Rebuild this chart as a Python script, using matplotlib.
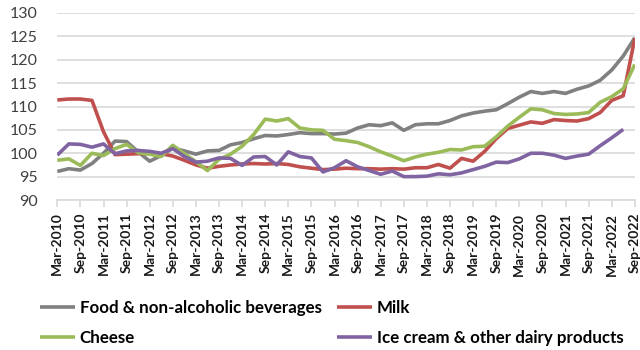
import numpy as np
import matplotlib
matplotlib.use("Agg")
import matplotlib.pyplot as plt

quarters = []
months = ["Mar", "Jun", "Sep", "Dec"]
for y in range(2010, 2023):
    for m in months:
        quarters.append(f"{m}-{y}")
quarters = quarters[:quarters.index("Sep-2022") + 1]

food = [96.1, 96.7, 96.4, 97.8, 100.0, 102.6, 102.5, 100.3, 98.3, 99.5, 101.1, 100.5,
        99.8, 100.5, 100.6, 101.8, 102.3, 103.1, 103.8, 103.7, 104.0, 104.4, 104.2, 104.2,
        104.1, 104.3, 105.4, 106.1, 105.9, 106.5, 104.9, 106.1, 106.3, 106.3, 107.0, 108.0,
        108.6, 109.0, 109.3, 110.6, 112.0, 113.2, 112.8, 113.2, 112.8, 113.7, 114.4, 115.6,
        117.8, 120.8, 124.7]
milk = [111.4, 111.6, 111.6, 111.3, 104.6, 99.7, 99.8, 99.9, 100.0, 99.9, 99.4, 98.5,
        97.5, 96.8, 97.2, 97.5, 97.7, 97.8, 97.7, 97.8, 97.6, 97.1, 96.8, 96.5,
        96.6, 96.8, 96.7, 96.7, 96.6, 96.7, 96.6, 96.9, 96.9, 97.6, 96.8, 98.9,
        98.3, 100.4, 103.1, 105.3, 106.0, 106.7, 106.4, 107.2, 107.0, 106.9, 107.4, 108.7,
        111.3, 112.3, 124.6]
cheese = [98.5, 98.8, 97.4, 100.0, 99.5, 101.0, 101.9, 100.1, 99.8, 99.3, 101.7, 99.9,
          98.2, 96.3, 98.7, 99.8, 101.5, 104.0, 107.3, 106.9, 107.4, 105.4, 105.0, 104.9,
          103.0, 102.7, 102.3, 101.4, 100.3, 99.4, 98.4, 99.2, 99.8, 100.2, 100.8, 100.7,
          101.4, 101.5, 103.5, 105.8, 107.7, 109.5, 109.3, 108.5, 108.3, 108.4, 108.7, 110.9,
          112.1, 113.8, 119.0]
icecream = [99.6, 102.0, 101.9, 101.3, 102.0, 99.9, 100.5, 100.6, 100.4, 100.0, 101.0, 99.3,
            98.1, 98.3, 99.0, 98.9, 97.4, 99.2, 99.3, 97.5, 100.3, 99.3, 99.0, 96.0,
            96.9, 98.4, 97.1, 96.3, 95.5, 96.2, 95.0, 95.0, 95.1, 95.6, 95.4, 95.8,
            96.5, 97.2, 98.1, 98.0, 98.8, 100.0, 100.0, 99.6, 98.9, 99.4, 99.8, 101.6,
            103.3, 105.1, np.nan]

series = [
    ("Food & non-alcoholic beverages", food, "#808080"),
    ("Milk", milk, "#C0504D"),
    ("Cheese", cheese, "#9BBB59"),
    ("Ice cream & other dairy products", icecream, "#8064A2"),
]

plt.rcParams['font.family'] = ['Lato', 'DejaVu Sans']

fig = plt.figure(figsize=(6.4, 3.5), dpi=100)
ax = fig.add_axes([57.3 / 640, 1 - 200 / 350, (634.8 - 57.3) / 640, (200 - 13) / 350])

x = np.arange(len(quarters))
handles = {}
for name, vals, col in series:
    ln, = ax.plot(x, vals, color=col, lw=2.6, solid_capstyle='butt', solid_joinstyle='round', label=name, zorder=3)
    handles[name] = ln

ax.set_xlim(0, len(quarters) - 1)
ax.set_ylim(90, 130)
ax.set_yticks(np.arange(90, 131, 5))
ax.grid(axis='y', color='#D9D9D9', lw=1.2, zorder=0)
ax.set_axisbelow(True)
for s in ['top', 'right', 'left']:
    ax.spines[s].set_visible(False)
ax.spines['bottom'].set_color('#D9D9D9')
ax.spines['bottom'].set_linewidth(1.2)

ax.set_xticks(x[::2])
ax.set_xticklabels(quarters[::2], rotation=90, fontsize=10, fontweight='bold', color='#1a1a1a')
ax.tick_params(axis='x', length=5, color='#D9D9D9', width=1.2, pad=4)
ax.tick_params(axis='y', length=0, pad=14, labelsize=11.5, labelcolor='#404040')

order = ["Food & non-alcoholic beverages", "Cheese", "Milk", "Ice cream & other dairy products"]
leg = fig.legend([handles[n] for n in order], order, ncol=2, loc='upper left',
                 bbox_to_anchor=(40 / 640, 1 - 300 / 350), frameon=False,
                 prop={'weight': 'bold', 'size': 12.2}, handlelength=2.05, handletextpad=0.3,
                 columnspacing=0.9, labelspacing=0.85, borderaxespad=0, borderpad=0)

fig.savefig("out.png", dpi=100)
